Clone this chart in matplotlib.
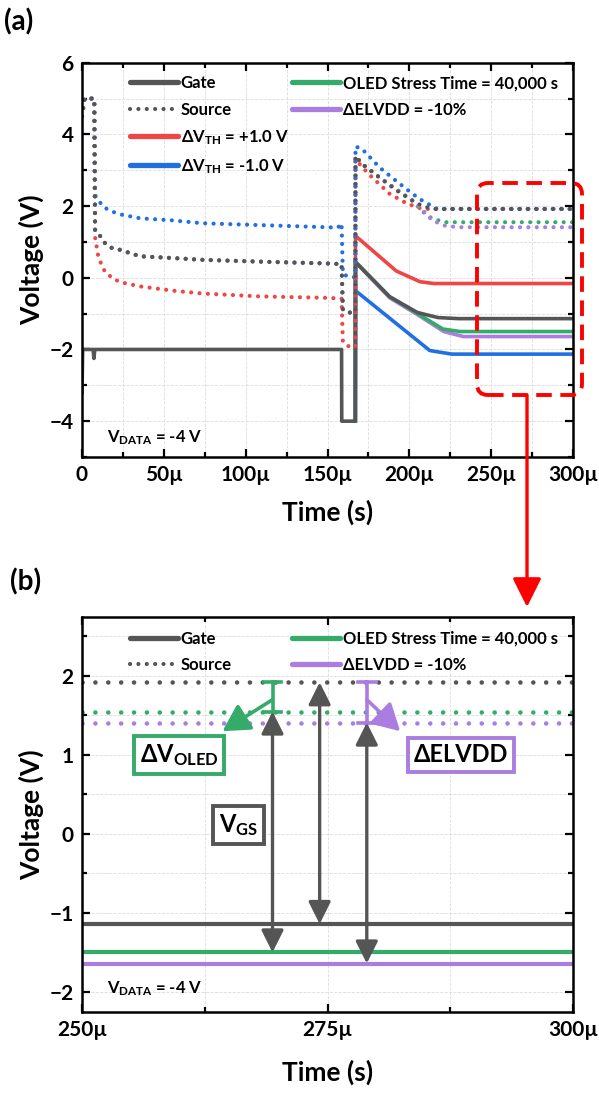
import matplotlib
matplotlib.use("Agg")
import matplotlib.pyplot as plt
from matplotlib.lines import Line2D
from matplotlib.patches import FancyBboxPatch, FancyArrowPatch
from matplotlib.transforms import IdentityTransform
from matplotlib.ticker import MultipleLocator, FuncFormatter

plt.rcParams['font.family'] = ['Lato', 'DejaVu Sans']
plt.rcParams['font.weight'] = 'bold'
plt.rcParams['mathtext.fontset'] = 'custom'
plt.rcParams['mathtext.rm'] = 'Lato:bold'
plt.rcParams['mathtext.it'] = 'Lato:bold'
plt.rcParams['mathtext.bf'] = 'Lato:bold'

# ---- data (time in µs, voltage in V) ----
# gate, nominal
gate_t = [0, 0.4, 6.8, 7.3, 7.8, 158.6, 158.7, 167.0, 167.1, 188, 205, 217.5, 230, 300]
gate_v = [-3.2, -2.0, -2.0, -2.25, -2.0, -2.0, -4.0, -4.0, 0.44, -0.53, -0.97, -1.11, -1.14, -1.14]

# gate tails after the -4 V pulse (before that they sit under the nominal gate)
red_gate_t = [167.0, 167.1, 192, 206.5, 215, 300]
red_gate_v = [-4.0, 1.17, 0.19, -0.11, -0.16, -0.16]
blue_gate_t = [167.0, 167.1, 212.5, 226, 300]
blue_gate_v = [-4.0, -0.36, -2.03, -2.13, -2.13]
green_gate_t = [167.0, 167.1, 188, 205, 220.5, 231, 300]
green_gate_v = [-4.0, 0.44, -0.53, -1.0, -1.43, -1.50, -1.50]
purple_gate_t = [167.0, 167.1, 188, 205, 221, 233, 300]
purple_gate_v = [-4.0, 0.44, -0.56, -1.03, -1.50, -1.64, -1.64]

# sources
src_t = [0, 1.5, 7.5, 8.0, 11, 14, 18.3, 23.2, 35.4, 55.6, 74, 108.7, 149.7, 158.6,
         159.4, 163.5, 167.0, 167.1, 171, 182, 192.4, 202, 208, 215, 300]
src_v = [4.5, 5.0, 5.0, 1.3, 1.17, 0.97, 0.83, 0.78, 0.6, 0.55, 0.5, 0.45, 0.4, 0.38,
         -0.9, -0.97, -0.97, 3.4, 3.18, 2.79, 2.43, 2.15, 2.0, 1.92, 1.92]

red_src_t = [0, 1.5, 7.5, 8.0, 10, 12, 14, 18.3, 23.2, 35.4, 55.6, 74, 108.7, 149.7, 158.6,
             159.4, 163.5, 167.0, 167.1, 175, 188, 199, 208, 300]
red_src_v = [4.5, 5.0, 5.0, 1.13, 0.58, 0.36, 0.17, 0.0, -0.12, -0.24, -0.36, -0.44, -0.52,
             -0.56, -0.58, -1.8, -1.93, -1.93, 3.3, 2.9, 2.34, 2.06, 1.92, 1.92]

blue_src_t = [0, 1.5, 7.5, 8.0, 11, 14, 18.3, 23.2, 35.4, 55.6, 74, 108.7, 149.7, 156.4,
              158.6, 159.4, 163.5, 167.0, 167.1, 171, 182, 192, 202, 208, 217, 300]
blue_src_v = [4.5, 5.0, 5.0, 2.3, 2.1, 1.95, 1.85, 1.77, 1.66, 1.6, 1.52, 1.47, 1.41, 1.4,
              1.52, 0.1, 0.02, 0.02, 3.66, 3.6, 3.07, 2.7, 2.34, 2.15, 1.92, 1.92]

green_src_t = src_t[:20] + [202, 208, 214, 222, 300]
green_src_v = src_v[:20] + [2.15, 1.85, 1.65, 1.55, 1.55]
purple_src_t = src_t[:20] + [202, 208, 214, 222, 230, 300]
purple_src_v = src_v[:20] + [2.15, 1.9, 1.6, 1.45, 1.41, 1.41]

# zoomed window (b): settled levels
zoom_t = [250, 300]
gate_level = -1.14
green_gate_level = -1.50
purple_gate_level = -1.64
src_level = 1.92
green_src_level = 1.55
purple_src_level = 1.41

GRAY = '#555555'
RED = '#f04545'
BLUE = '#2070e2'
GREEN = '#34ab68'
PURPLE = '#ab7de0'

labels = ['Gate', 'Source', r'ΔV$_{\mathrm{TH}}$ = +1.0 V', r'ΔV$_{\mathrm{TH}}$ = -1.0 V',
          'OLED Stress Time = 40,000 s', 'ΔELVDD = -10%']

W, H = 599, 1096
fig = plt.figure(figsize=(W / 100, H / 100), dpi=100)

def ax_rect(l, t, r, b):
    return [l / W, 1 - b / H, (r - l) / W, (b - t) / H]

ax_a = fig.add_axes(ax_rect(82, 62.7, 573, 457))
ax_b = fig.add_axes(ax_rect(82, 616.7, 573, 1011.7))

SOLID_LW = 2.6


def dot(ax, t, v, color, lw, gap):
    ax.plot(t, v, color=color, lw=lw, linestyle=(0, (0.01, gap)),
            dash_capstyle='round', solid_capstyle='round')


def style_axes(ax):
    for s in ax.spines.values():
        s.set_linewidth(1.8)
    ax.tick_params(which='both', direction='in', top=True, right=True, width=1.6,
                   labelsize=15, pad=6)
    ax.tick_params(which='major', length=6)
    ax.tick_params(which='minor', length=3.5)
    ax.grid(which='both', color='#dcdcdc', lw=0.6, ls='--')
    ax.set_axisbelow(True)
    for lab in ax.get_xticklabels() + ax.get_yticklabels():
        lab.set_fontweight('bold')


def mu(v, pos):
    return '0' if v == 0 else f'{v:g}µ'


def legend(ax, handles, labs, x, y):
    return ax.legend(handles, labs, loc='upper left', bbox_to_anchor=(x, y),
                     frameon=False, borderpad=0, borderaxespad=0, handlelength=2.9,
                     handletextpad=0.15, labelspacing=0.62,
                     prop={'size': 12, 'weight': 'bold'})


def handle(color, dotted=False):
    if dotted:
        return Line2D([], [], color=color, lw=3.0, linestyle=(0, (0.01, 2.0)),
                      dash_capstyle='round')
    return Line2D([], [], color=color, lw=3.8, solid_capstyle='round')


COL1 = (130 - 82) / 491
COL2 = (292 - 82) / 491

# ---------------- (a) ----------------
ax = ax_a
ax.plot(red_gate_t, red_gate_v, color=RED, lw=SOLID_LW)
ax.plot(blue_gate_t, blue_gate_v, color=BLUE, lw=SOLID_LW)
ax.plot(purple_gate_t, purple_gate_v, color=PURPLE, lw=SOLID_LW)
ax.plot(green_gate_t, green_gate_v, color=GREEN, lw=SOLID_LW)
ax.plot(gate_t, gate_v, color=GRAY, lw=SOLID_LW, solid_joinstyle='round')
dot(ax, red_src_t, red_src_v, RED, 3.0, 2.0)
dot(ax, blue_src_t, blue_src_v, BLUE, 3.0, 2.0)
dot(ax, green_src_t, green_src_v, GREEN, 3.0, 2.0)
dot(ax, purple_src_t, purple_src_v, PURPLE, 3.0, 2.0)
dot(ax, src_t, src_v, GRAY, 3.0, 2.0)

ax.set_xlim(0, 300)
ax.set_ylim(-5, 6)
ax.xaxis.set_major_locator(MultipleLocator(50))
ax.xaxis.set_minor_locator(MultipleLocator(25))
ax.yaxis.set_major_locator(MultipleLocator(2))
ax.yaxis.set_minor_locator(MultipleLocator(1))
ax.xaxis.set_major_formatter(FuncFormatter(mu))
style_axes(ax)
ax.set_xlabel('Time (s)', fontsize=19, fontweight='bold', labelpad=10)
ax.set_ylabel('Voltage (V)', fontsize=19, fontweight='bold', labelpad=4)
ax.text(15.3, -4.47, r'V$_{\mathrm{DATA}}$ = -4 V', fontsize=12, fontweight='bold', va='center')

lg1 = legend(ax, [handle(GRAY), handle(GRAY, True), handle(RED), handle(BLUE)],
             labels[:4], COL1, 0.968)
ax.add_artist(lg1)
legend(ax, [handle(GREEN), handle(PURPLE)], labels[4:], COL2, 0.968)

# ---------------- (b) ----------------
ax = ax_b
ax.plot(zoom_t, [gate_level] * 2, color=GRAY, lw=SOLID_LW + 0.4)
ax.plot(zoom_t, [green_gate_level] * 2, color=GREEN, lw=SOLID_LW + 0.4)
ax.plot(zoom_t, [purple_gate_level] * 2, color=PURPLE, lw=SOLID_LW + 0.4)
dot(ax, zoom_t, [src_level] * 2, GRAY, 3.3, 2.8)
dot(ax, zoom_t, [green_src_level] * 2, GREEN, 3.3, 2.8)
dot(ax, zoom_t, [purple_src_level] * 2, PURPLE, 3.3, 2.8)

ax.set_xlim(250, 300)
ax.set_ylim(-2.25, 2.75)
ax.xaxis.set_major_locator(MultipleLocator(25))
ax.xaxis.set_minor_locator(MultipleLocator(12.5))
ax.yaxis.set_major_locator(MultipleLocator(1))
ax.yaxis.set_minor_locator(MultipleLocator(0.5))
ax.xaxis.set_major_formatter(FuncFormatter(mu))
style_axes(ax)
ax.set_xlabel('Time (s)', fontsize=19, fontweight='bold', labelpad=14)
ax.set_ylabel('Voltage (V)', fontsize=19, fontweight='bold', labelpad=4)
ax.text(252.5, -1.96, r'V$_{\mathrm{DATA}}$ = -4 V', fontsize=12, fontweight='bold', va='center')

lg2 = legend(ax, [handle(GRAY), handle(GRAY, True)], labels[:2], COL1, 0.965)
ax.add_artist(lg2)
legend(ax, [handle(GREEN), handle(PURPLE)], labels[4:], COL2, 0.965)

# V_GS arrows
arr = dict(arrowstyle='<|-|>,head_length=0.9,head_width=0.45', color=GRAY, lw=2.4,
           shrinkA=0, shrinkB=0, mutation_scale=15)
for x, top, bot in [(269.4, green_src_level, green_gate_level),
                    (274.2, src_level, gate_level),
                    (279.0, purple_src_level, purple_gate_level)]:
    ax.annotate('', xy=(x, top), xytext=(x, bot), arrowprops=arr)

# brackets and pointers
for x, lo, c, tip in [(269.4, green_src_level, GREEN, (264.3, 1.30)),
                      (279.0, purple_src_level, PURPLE, (282.4, 1.30))]:
    ax.plot([x, x], [lo, src_level], color=c, lw=2.6)
    ax.plot([x - 0.9, x + 0.9], [src_level, src_level], color=c, lw=2.6)
    ax.plot([x - 0.9, x + 0.9], [lo, lo], color=c, lw=2.6)
    ax.annotate('', xy=tip, xytext=(x, 1.70),
                arrowprops=dict(arrowstyle='-|>,head_length=0.9,head_width=0.5', color=c,
                                lw=2.6, shrinkA=0, shrinkB=0, mutation_scale=18))

box_kw = dict(fontsize=17, fontweight='bold', ha='center', va='center')
ax.text(259.9, 1.0, r'ΔV$_{\mathrm{OLED}}$', **box_kw,
        bbox=dict(boxstyle='square,pad=0.25', fc='white', ec=GREEN, lw=2.8))
ax.text(288.6, 1.0, 'ΔELVDD', **box_kw,
        bbox=dict(boxstyle='square,pad=0.25', fc='white', ec=PURPLE, lw=2.8))
ax.text(265.9, 0.11, r'V$_{\mathrm{GS}}$', **box_kw,
        bbox=dict(boxstyle='square,pad=0.25', fc='white', ec=GRAY, lw=2.8))

# panel letters
fig.text(4 / W, 1 - 22 / H, '(a)', fontsize=20, fontweight='bold', va='center')
fig.text(10 / W, 1 - 582 / H, '(b)', fontsize=20, fontweight='bold', va='center')

# red dashed zoom box and arrow (pixel coordinates)
box = FancyBboxPatch((477, H - 395), 105, 212, boxstyle='round,pad=0,rounding_size=11',
                     transform=IdentityTransform(), fill=False, ec='#ff0000', lw=2.8,
                     ls=(0, (4, 2.2)))
fig.add_artist(box)
fig.add_artist(FancyArrowPatch((527, H - 395), (527, H - 607), transform=IdentityTransform(),
                               arrowstyle='-|>,head_length=0.8,head_width=0.4',
                               mutation_scale=22, color='#ff0000', lw=2.4,
                               shrinkA=0, shrinkB=0))

fig.savefig('out.png', dpi=100)
